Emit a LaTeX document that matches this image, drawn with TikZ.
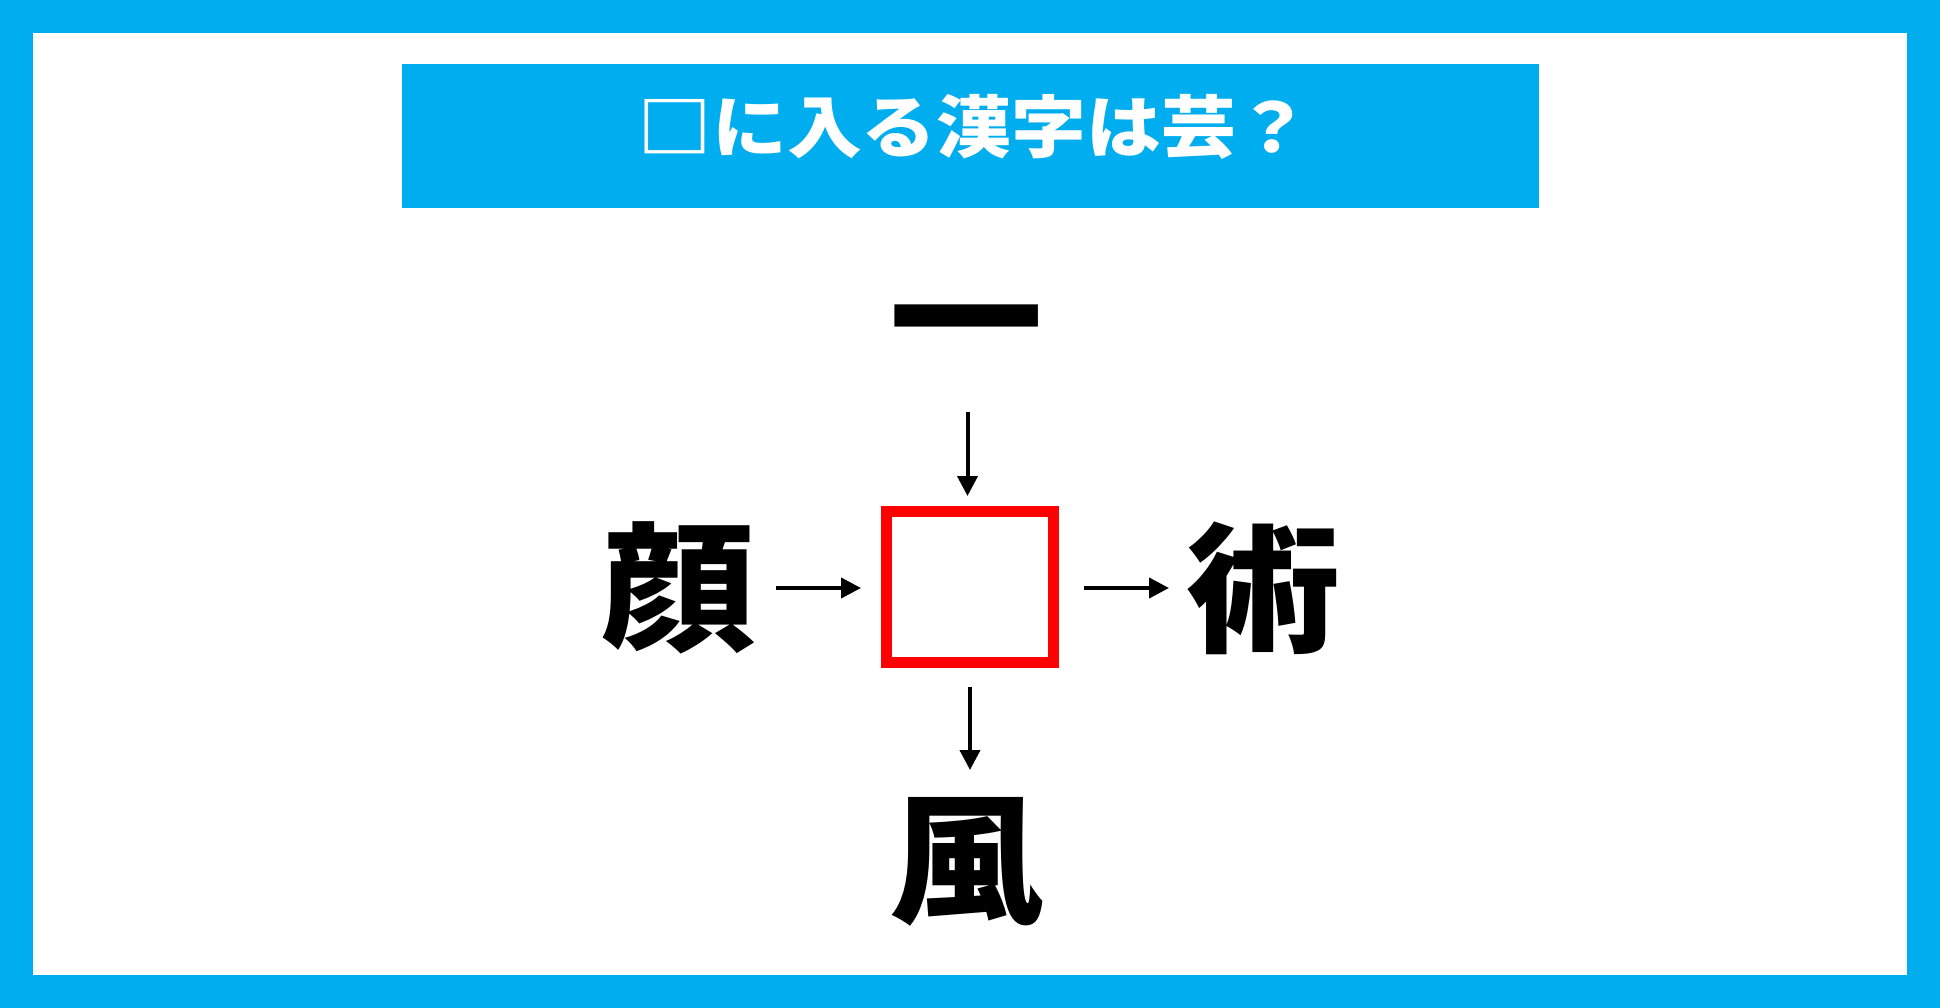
\documentclass[tikz,border=0pt]{standalone}
\usepackage{fontspec}
\newfontfamily\jpfont{Noto Sans CJK JP}[FakeStretch=1.1]
\usetikzlibrary{arrows.meta}
\definecolor{skyblue}{HTML}{00AEEF}
\definecolor{boxred}{HTML}{FF0000}
\tikzset{
  kanji/.style={font=\jpfont\bfseries\fontsize{140}{140}\selectfont, inner sep=0pt},
  arr/.style={line width=4pt, -{Triangle[length=20pt,width=20pt]}}
}

\begin{document}
\begin{tikzpicture}[x=1pt,y=-1pt]
\useasboundingbox (0,0) rectangle (1940,1008);
% frame and title band
\fill[skyblue] (0,0) rectangle (1940,1008);
\fill[white] (33,33) rectangle (1907,975);
\fill[skyblue] (402,64) rectangle (1539,208);
\node[font=\jpfont\bfseries\fontsize{68}{68}\selectfont, text=white, inner sep=0pt] (title) at (974,127) {□に入る漢字は芸？};
% kanji around the box
\node[kanji] (ichi) at (966,338) {一};
\node[kanji] (kao) at (678,588) {顔};
\node[kanji] (jutsu) at (1263,588) {術};
\node[kanji] (kaze) at (966,862) {風};
\node[draw=boxred, line width=11pt, minimum width=167pt, minimum height=151pt, inner sep=0pt] (box) at (970,587) {};
% arrows
\coordinate (t1) at (967.5,412);
\coordinate (t2) at (967.5,496);
\coordinate (l1) at (776,588);
\coordinate (l2) at (861,588);
\coordinate (r1) at (1084,588);
\coordinate (r2) at (1169,588);
\coordinate (b1) at (970,687);
\coordinate (b2) at (970,770);
\draw[arr] (t1) -- (t2);
\draw[arr] (l1) -- (l2);
\draw[arr] (r1) -- (r2);
\draw[arr] (b1) -- (b2);
\end{tikzpicture}
\end{document}
